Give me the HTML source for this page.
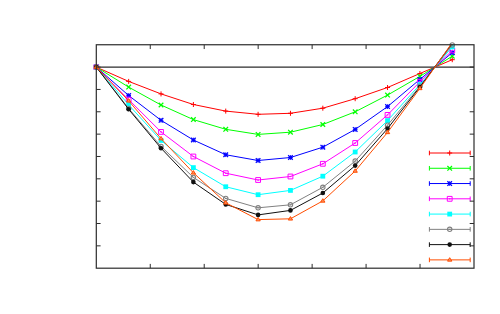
<!DOCTYPE html>
<html><head><meta charset="utf-8"><title>plot</title>
<style>html,body{margin:0;padding:0;background:#fff;font-family:"Liberation Sans",sans-serif}svg{display:block}</style></head>
<body>
<svg width="500" height="314" viewBox="0 0 500 314">
<rect width="500" height="314" fill="#ffffff"/>
<defs><clipPath id="c"><rect x="96.3" y="44.75" width="377.7" height="223.45"/></clipPath></defs>
<path d="M96.3 67.1H474.0" stroke-width="1.15" stroke="#2c2c2c" fill="none"/>
<g stroke-width="1" stroke-linejoin="round">
<path d="M429.4 153.00H470.2M429.4 150.70v4.6M470.2 150.70v4.6" stroke="#ff0000" fill="none"/>
<path d="M447.20 153.00H452.20M449.70 150.50V155.50" stroke="#ff0000" fill="none"/>
<polyline points="96.30,67.10 128.66,81.40 161.02,93.90 193.38,104.50 225.74,111.10 258.10,114.30 290.46,113.30 322.82,108.20 355.18,98.70 387.54,87.50 419.90,73.50 452.26,59.70" stroke="#ff0000" fill="none" clip-path="url(#c)"/>
<path d="M93.80 67.10H98.80M96.30 64.60V69.60" stroke="#ff0000" fill="none"/>
<path d="M126.16 81.40H131.16M128.66 78.90V83.90" stroke="#ff0000" fill="none"/>
<path d="M158.52 93.90H163.52M161.02 91.40V96.40" stroke="#ff0000" fill="none"/>
<path d="M190.88 104.50H195.88M193.38 102.00V107.00" stroke="#ff0000" fill="none"/>
<path d="M223.24 111.10H228.24M225.74 108.60V113.60" stroke="#ff0000" fill="none"/>
<path d="M255.60 114.30H260.60M258.10 111.80V116.80" stroke="#ff0000" fill="none"/>
<path d="M287.96 113.30H292.96M290.46 110.80V115.80" stroke="#ff0000" fill="none"/>
<path d="M320.32 108.20H325.32M322.82 105.70V110.70" stroke="#ff0000" fill="none"/>
<path d="M352.68 98.70H357.68M355.18 96.20V101.20" stroke="#ff0000" fill="none"/>
<path d="M385.04 87.50H390.04M387.54 85.00V90.00" stroke="#ff0000" fill="none"/>
<path d="M417.40 73.50H422.40M419.90 71.00V76.00" stroke="#ff0000" fill="none"/>
<path d="M449.76 59.70H454.76M452.26 57.20V62.20" stroke="#ff0000" fill="none"/>
</g>
<g stroke-width="1" stroke-linejoin="round">
<path d="M429.4 168.27H470.2M429.4 165.97v4.6M470.2 165.97v4.6" stroke="#00ff00" fill="none"/>
<path d="M447.40 165.97L452.00 170.57M447.40 170.57L452.00 165.97" stroke="#00ff00" stroke-width="1.25" fill="none"/>
<polyline points="96.30,67.10 128.66,87.10 161.02,105.00 193.38,119.60 225.74,129.30 258.10,134.40 290.46,132.20 322.82,124.50 355.18,111.80 387.54,95.10 419.90,76.40 452.26,56.20" stroke="#00ff00" fill="none" clip-path="url(#c)"/>
<path d="M94.00 64.80L98.60 69.40M94.00 69.40L98.60 64.80" stroke="#00ff00" stroke-width="1.25" fill="none"/>
<path d="M126.36 84.80L130.96 89.40M126.36 89.40L130.96 84.80" stroke="#00ff00" stroke-width="1.25" fill="none"/>
<path d="M158.72 102.70L163.32 107.30M158.72 107.30L163.32 102.70" stroke="#00ff00" stroke-width="1.25" fill="none"/>
<path d="M191.08 117.30L195.68 121.90M191.08 121.90L195.68 117.30" stroke="#00ff00" stroke-width="1.25" fill="none"/>
<path d="M223.44 127.00L228.04 131.60M223.44 131.60L228.04 127.00" stroke="#00ff00" stroke-width="1.25" fill="none"/>
<path d="M255.80 132.10L260.40 136.70M255.80 136.70L260.40 132.10" stroke="#00ff00" stroke-width="1.25" fill="none"/>
<path d="M288.16 129.90L292.76 134.50M288.16 134.50L292.76 129.90" stroke="#00ff00" stroke-width="1.25" fill="none"/>
<path d="M320.52 122.20L325.12 126.80M320.52 126.80L325.12 122.20" stroke="#00ff00" stroke-width="1.25" fill="none"/>
<path d="M352.88 109.50L357.48 114.10M352.88 114.10L357.48 109.50" stroke="#00ff00" stroke-width="1.25" fill="none"/>
<path d="M385.24 92.80L389.84 97.40M385.24 97.40L389.84 92.80" stroke="#00ff00" stroke-width="1.25" fill="none"/>
<path d="M417.60 74.10L422.20 78.70M417.60 78.70L422.20 74.10" stroke="#00ff00" stroke-width="1.25" fill="none"/>
<path d="M449.96 53.90L454.56 58.50M449.96 58.50L454.56 53.90" stroke="#00ff00" stroke-width="1.25" fill="none"/>
</g>
<g stroke-width="1" stroke-linejoin="round">
<path d="M429.4 183.54H470.2M429.4 181.24v4.6M470.2 181.24v4.6" stroke="#0000ff" fill="none"/>
<path d="M447.40 183.54H452.00M449.70 181.24V185.84" stroke="#0000ff" fill="none"/><path d="M447.40 181.24L452.00 185.84M447.40 185.84L452.00 181.24" stroke="#0000ff" stroke-width="1.25" fill="none"/>
<polyline points="96.30,67.10 128.66,95.50 161.02,120.30 193.38,140.00 225.74,154.75 258.10,160.50 290.46,157.50 322.82,147.20 355.18,129.40 387.54,106.60 419.90,79.40 452.26,52.70" stroke="#0000ff" fill="none" clip-path="url(#c)"/>
<path d="M94.00 67.10H98.60M96.30 64.80V69.40" stroke="#0000ff" fill="none"/><path d="M94.00 64.80L98.60 69.40M94.00 69.40L98.60 64.80" stroke="#0000ff" stroke-width="1.25" fill="none"/>
<path d="M126.36 95.50H130.96M128.66 93.20V97.80" stroke="#0000ff" fill="none"/><path d="M126.36 93.20L130.96 97.80M126.36 97.80L130.96 93.20" stroke="#0000ff" stroke-width="1.25" fill="none"/>
<path d="M158.72 120.30H163.32M161.02 118.00V122.60" stroke="#0000ff" fill="none"/><path d="M158.72 118.00L163.32 122.60M158.72 122.60L163.32 118.00" stroke="#0000ff" stroke-width="1.25" fill="none"/>
<path d="M191.08 140.00H195.68M193.38 137.70V142.30" stroke="#0000ff" fill="none"/><path d="M191.08 137.70L195.68 142.30M191.08 142.30L195.68 137.70" stroke="#0000ff" stroke-width="1.25" fill="none"/>
<path d="M223.44 154.75H228.04M225.74 152.45V157.05" stroke="#0000ff" fill="none"/><path d="M223.44 152.45L228.04 157.05M223.44 157.05L228.04 152.45" stroke="#0000ff" stroke-width="1.25" fill="none"/>
<path d="M255.80 160.50H260.40M258.10 158.20V162.80" stroke="#0000ff" fill="none"/><path d="M255.80 158.20L260.40 162.80M255.80 162.80L260.40 158.20" stroke="#0000ff" stroke-width="1.25" fill="none"/>
<path d="M288.16 157.50H292.76M290.46 155.20V159.80" stroke="#0000ff" fill="none"/><path d="M288.16 155.20L292.76 159.80M288.16 159.80L292.76 155.20" stroke="#0000ff" stroke-width="1.25" fill="none"/>
<path d="M320.52 147.20H325.12M322.82 144.90V149.50" stroke="#0000ff" fill="none"/><path d="M320.52 144.90L325.12 149.50M320.52 149.50L325.12 144.90" stroke="#0000ff" stroke-width="1.25" fill="none"/>
<path d="M352.88 129.40H357.48M355.18 127.10V131.70" stroke="#0000ff" fill="none"/><path d="M352.88 127.10L357.48 131.70M352.88 131.70L357.48 127.10" stroke="#0000ff" stroke-width="1.25" fill="none"/>
<path d="M385.24 106.60H389.84M387.54 104.30V108.90" stroke="#0000ff" fill="none"/><path d="M385.24 104.30L389.84 108.90M385.24 108.90L389.84 104.30" stroke="#0000ff" stroke-width="1.25" fill="none"/>
<path d="M417.60 79.40H422.20M419.90 77.10V81.70" stroke="#0000ff" fill="none"/><path d="M417.60 77.10L422.20 81.70M417.60 81.70L422.20 77.10" stroke="#0000ff" stroke-width="1.25" fill="none"/>
<path d="M449.96 52.70H454.56M452.26 50.40V55.00" stroke="#0000ff" fill="none"/><path d="M449.96 50.40L454.56 55.00M449.96 55.00L454.56 50.40" stroke="#0000ff" stroke-width="1.25" fill="none"/>
</g>
<g stroke-width="1" stroke-linejoin="round">
<path d="M429.4 198.81H470.2M429.4 196.51v4.6M470.2 196.51v4.6" stroke="#ff00ff" fill="none"/>
<rect x="447.30" y="196.41" width="4.80" height="4.80" stroke="#ff00ff" fill="none"/><rect x="448.90" y="198.21" width="1.6" height="1.2" fill="#ff00ff"/>
<polyline points="96.30,67.10 128.66,99.60 161.02,131.90 193.38,156.50 225.74,173.20 258.10,180.00 290.46,176.50 322.82,163.80 355.18,143.00 387.54,114.90 419.90,81.80 452.26,50.40" stroke="#ff00ff" fill="none" clip-path="url(#c)"/>
<rect x="93.90" y="64.70" width="4.80" height="4.80" stroke="#ff00ff" fill="none"/><rect x="95.50" y="66.50" width="1.6" height="1.2" fill="#ff00ff"/>
<rect x="126.26" y="97.20" width="4.80" height="4.80" stroke="#ff00ff" fill="none"/><rect x="127.86" y="99.00" width="1.6" height="1.2" fill="#ff00ff"/>
<rect x="158.62" y="129.50" width="4.80" height="4.80" stroke="#ff00ff" fill="none"/><rect x="160.22" y="131.30" width="1.6" height="1.2" fill="#ff00ff"/>
<rect x="190.98" y="154.10" width="4.80" height="4.80" stroke="#ff00ff" fill="none"/><rect x="192.58" y="155.90" width="1.6" height="1.2" fill="#ff00ff"/>
<rect x="223.34" y="170.80" width="4.80" height="4.80" stroke="#ff00ff" fill="none"/><rect x="224.94" y="172.60" width="1.6" height="1.2" fill="#ff00ff"/>
<rect x="255.70" y="177.60" width="4.80" height="4.80" stroke="#ff00ff" fill="none"/><rect x="257.30" y="179.40" width="1.6" height="1.2" fill="#ff00ff"/>
<rect x="288.06" y="174.10" width="4.80" height="4.80" stroke="#ff00ff" fill="none"/><rect x="289.66" y="175.90" width="1.6" height="1.2" fill="#ff00ff"/>
<rect x="320.42" y="161.40" width="4.80" height="4.80" stroke="#ff00ff" fill="none"/><rect x="322.02" y="163.20" width="1.6" height="1.2" fill="#ff00ff"/>
<rect x="352.78" y="140.60" width="4.80" height="4.80" stroke="#ff00ff" fill="none"/><rect x="354.38" y="142.40" width="1.6" height="1.2" fill="#ff00ff"/>
<rect x="385.14" y="112.50" width="4.80" height="4.80" stroke="#ff00ff" fill="none"/><rect x="386.74" y="114.30" width="1.6" height="1.2" fill="#ff00ff"/>
<rect x="417.50" y="79.40" width="4.80" height="4.80" stroke="#ff00ff" fill="none"/><rect x="419.10" y="81.20" width="1.6" height="1.2" fill="#ff00ff"/>
<rect x="449.86" y="48.00" width="4.80" height="4.80" stroke="#ff00ff" fill="none"/><rect x="451.46" y="49.80" width="1.6" height="1.2" fill="#ff00ff"/>
</g>
<g stroke-width="1" stroke-linejoin="round">
<path d="M429.4 214.08H470.2M429.4 211.78v4.6M470.2 211.78v4.6" stroke="#00ffff" fill="none"/>
<rect x="447.30" y="211.68" width="4.80" height="4.80" stroke="none" fill="#00ffff"/>
<polyline points="96.30,67.10 128.66,104.80 161.02,140.40 193.38,167.60 225.74,186.75 258.10,194.70 290.46,190.40 322.82,176.20 355.18,152.00 387.54,120.60 419.90,84.60 452.26,46.90" stroke="#00ffff" fill="none" clip-path="url(#c)"/>
<rect x="93.90" y="64.70" width="4.80" height="4.80" stroke="none" fill="#00ffff"/>
<rect x="126.26" y="102.40" width="4.80" height="4.80" stroke="none" fill="#00ffff"/>
<rect x="158.62" y="138.00" width="4.80" height="4.80" stroke="none" fill="#00ffff"/>
<rect x="190.98" y="165.20" width="4.80" height="4.80" stroke="none" fill="#00ffff"/>
<rect x="223.34" y="184.35" width="4.80" height="4.80" stroke="none" fill="#00ffff"/>
<rect x="255.70" y="192.30" width="4.80" height="4.80" stroke="none" fill="#00ffff"/>
<rect x="288.06" y="188.00" width="4.80" height="4.80" stroke="none" fill="#00ffff"/>
<rect x="320.42" y="173.80" width="4.80" height="4.80" stroke="none" fill="#00ffff"/>
<rect x="352.78" y="149.60" width="4.80" height="4.80" stroke="none" fill="#00ffff"/>
<rect x="385.14" y="118.20" width="4.80" height="4.80" stroke="none" fill="#00ffff"/>
<rect x="417.50" y="82.20" width="4.80" height="4.80" stroke="none" fill="#00ffff"/>
<rect x="449.86" y="44.50" width="4.80" height="4.80" stroke="none" fill="#00ffff"/>
</g>
<g stroke-width="1" stroke-linejoin="round">
<path d="M429.4 229.35H470.2M429.4 227.05v4.6M470.2 227.05v4.6" stroke="#808080" fill="none"/>
<circle cx="449.70" cy="229.35" r="2.2" stroke="#808080" stroke-width="1.1" fill="none"/><rect x="448.90" y="228.75" width="1.6" height="1.2" fill="#808080"/>
<polyline points="96.30,67.10 128.66,108.40 161.02,146.40 193.38,177.40 225.74,198.40 258.10,207.80 290.46,204.80 322.82,187.30 355.18,161.10 387.54,125.20 419.90,86.20 452.26,45.00" stroke="#808080" fill="none" clip-path="url(#c)"/>
<circle cx="96.30" cy="67.10" r="2.2" stroke="#808080" stroke-width="1.1" fill="none"/><rect x="95.50" y="66.50" width="1.6" height="1.2" fill="#808080"/>
<circle cx="128.66" cy="108.40" r="2.2" stroke="#808080" stroke-width="1.1" fill="none"/><rect x="127.86" y="107.80" width="1.6" height="1.2" fill="#808080"/>
<circle cx="161.02" cy="146.40" r="2.2" stroke="#808080" stroke-width="1.1" fill="none"/><rect x="160.22" y="145.80" width="1.6" height="1.2" fill="#808080"/>
<circle cx="193.38" cy="177.40" r="2.2" stroke="#808080" stroke-width="1.1" fill="none"/><rect x="192.58" y="176.80" width="1.6" height="1.2" fill="#808080"/>
<circle cx="225.74" cy="198.40" r="2.2" stroke="#808080" stroke-width="1.1" fill="none"/><rect x="224.94" y="197.80" width="1.6" height="1.2" fill="#808080"/>
<circle cx="258.10" cy="207.80" r="2.2" stroke="#808080" stroke-width="1.1" fill="none"/><rect x="257.30" y="207.20" width="1.6" height="1.2" fill="#808080"/>
<circle cx="290.46" cy="204.80" r="2.2" stroke="#808080" stroke-width="1.1" fill="none"/><rect x="289.66" y="204.20" width="1.6" height="1.2" fill="#808080"/>
<circle cx="322.82" cy="187.30" r="2.2" stroke="#808080" stroke-width="1.1" fill="none"/><rect x="322.02" y="186.70" width="1.6" height="1.2" fill="#808080"/>
<circle cx="355.18" cy="161.10" r="2.2" stroke="#808080" stroke-width="1.1" fill="none"/><rect x="354.38" y="160.50" width="1.6" height="1.2" fill="#808080"/>
<circle cx="387.54" cy="125.20" r="2.2" stroke="#808080" stroke-width="1.1" fill="none"/><rect x="386.74" y="124.60" width="1.6" height="1.2" fill="#808080"/>
<circle cx="419.90" cy="86.20" r="2.2" stroke="#808080" stroke-width="1.1" fill="none"/><rect x="419.10" y="85.60" width="1.6" height="1.2" fill="#808080"/>
<circle cx="452.26" cy="45.00" r="2.2" stroke="#808080" stroke-width="1.1" fill="none"/><rect x="451.46" y="44.40" width="1.6" height="1.2" fill="#808080"/>
</g>
<g stroke-width="1" stroke-linejoin="round">
<path d="M429.4 244.62H470.2M429.4 242.32v4.6M470.2 242.32v4.6" stroke="#101010" fill="none"/>
<circle cx="449.70" cy="244.62" r="2.3" stroke="none" fill="#101010"/>
<polyline points="96.30,67.10 128.66,109.30 161.02,148.20 193.38,182.10 225.74,204.40 258.10,214.90 290.46,210.40 322.82,193.00 355.18,165.60 387.54,128.60 419.90,87.00 452.26,43.30" stroke="#101010" fill="none" clip-path="url(#c)"/>
<circle cx="96.30" cy="67.10" r="2.3" stroke="none" fill="#101010"/>
<circle cx="128.66" cy="109.30" r="2.3" stroke="none" fill="#101010"/>
<circle cx="161.02" cy="148.20" r="2.3" stroke="none" fill="#101010"/>
<circle cx="193.38" cy="182.10" r="2.3" stroke="none" fill="#101010"/>
<circle cx="225.74" cy="204.40" r="2.3" stroke="none" fill="#101010"/>
<circle cx="258.10" cy="214.90" r="2.3" stroke="none" fill="#101010"/>
<circle cx="290.46" cy="210.40" r="2.3" stroke="none" fill="#101010"/>
<circle cx="322.82" cy="193.00" r="2.3" stroke="none" fill="#101010"/>
<circle cx="355.18" cy="165.60" r="2.3" stroke="none" fill="#101010"/>
<circle cx="387.54" cy="128.60" r="2.3" stroke="none" fill="#101010"/>
<circle cx="419.90" cy="87.00" r="2.3" stroke="none" fill="#101010"/>
</g>
<g stroke-width="1" stroke-linejoin="round">
<path d="M429.4 259.89H470.2M429.4 257.59v4.6M470.2 257.59v4.6" stroke="#ff4d00" fill="none"/>
<path d="M449.70 257.69L447.55 261.14H451.85Z" stroke="#ff4d00" fill="#ff8f5e"/>
<polyline points="96.30,67.10 128.66,100.80 161.02,138.60 193.38,172.80 225.74,202.80 258.10,219.60 290.46,218.80 322.82,200.90 355.18,171.00 387.54,132.40 419.90,88.40 452.26,42.50" stroke="#ff4d00" fill="none" clip-path="url(#c)"/>
<path d="M96.30 64.90L94.15 68.35H98.45Z" stroke="#ff4d00" fill="#ff8f5e"/>
<path d="M128.66 98.60L126.51 102.05H130.81Z" stroke="#ff4d00" fill="#ff8f5e"/>
<path d="M161.02 136.40L158.87 139.85H163.17Z" stroke="#ff4d00" fill="#ff8f5e"/>
<path d="M193.38 170.60L191.23 174.05H195.53Z" stroke="#ff4d00" fill="#ff8f5e"/>
<path d="M225.74 200.60L223.59 204.05H227.89Z" stroke="#ff4d00" fill="#ff8f5e"/>
<path d="M258.10 217.40L255.95 220.85H260.25Z" stroke="#ff4d00" fill="#ff8f5e"/>
<path d="M290.46 216.60L288.31 220.05H292.61Z" stroke="#ff4d00" fill="#ff8f5e"/>
<path d="M322.82 198.70L320.67 202.15H324.97Z" stroke="#ff4d00" fill="#ff8f5e"/>
<path d="M355.18 168.80L353.03 172.25H357.33Z" stroke="#ff4d00" fill="#ff8f5e"/>
<path d="M387.54 130.20L385.39 133.65H389.69Z" stroke="#ff4d00" fill="#ff8f5e"/>
<path d="M419.90 86.20L417.75 89.65H422.05Z" stroke="#ff4d00" fill="#ff8f5e"/>
</g>
<g stroke="#2c2c2c" fill="none">
<path d="M96.3 67.09h4.3M474.0 67.09h-4.3M96.3 89.44h4.3M474.0 89.44h-4.3M96.3 111.78h4.3M474.0 111.78h-4.3M96.3 134.13h4.3M474.0 134.13h-4.3M96.3 156.47h4.3M474.0 156.47h-4.3M96.3 178.82h4.3M474.0 178.82h-4.3M96.3 201.16h4.3M474.0 201.16h-4.3M96.3 223.51h4.3M474.0 223.51h-4.3M96.3 245.85h4.3M474.0 245.85h-4.3M150.26 268.2v-4.3M150.26 44.75v4.3M204.21 268.2v-4.3M204.21 44.75v4.3M258.17 268.2v-4.3M258.17 44.75v4.3M312.13 268.2v-4.3M312.13 44.75v4.3M366.09 268.2v-4.3M366.09 44.75v4.3M420.04 268.2v-4.3M420.04 44.75v4.3" stroke-width="1"/>
<rect x="96.3" y="44.75" width="377.7" height="223.45" stroke-width="1.2"/>
</g>
</svg>
</body></html>
